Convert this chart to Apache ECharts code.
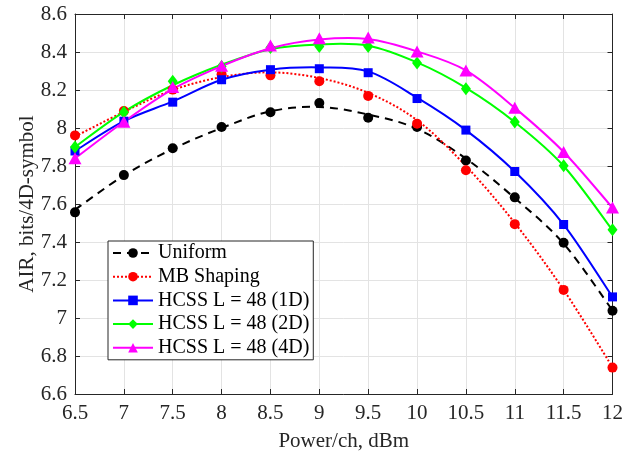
<!DOCTYPE html>
<html>
<head>
<meta charset="utf-8">
<script src="https://cdn.jsdelivr.net/npm/echarts@6/dist/echarts.min.js"></script>
<style>
html,body{margin:0;padding:0;background:#fff;}
#c{width:634px;height:457px;}
</style>
</head>
<body>
<div id="c"></div>
<script>
var xValues = [6.5, 7, 7.5, 8, 8.5, 9, 9.5, 10, 10.5, 11, 11.5, 12];
var uniformPts = [7.556, 7.752, 7.893, 8.005, 8.083, 8.132, 8.054, 8.005, 7.829, 7.635, 7.396, 7.038];
var uniformFit = [7.57, 7.75, 7.89, 8.00, 8.088, 8.111, 8.071, 7.996, 7.839, 7.631, 7.391, 7.04];
var mbPts = [7.961, 8.089, 8.202, 8.283, 8.277, 8.246, 8.169, 8.023, 7.778, 7.494, 7.148, 6.739];
var mbFit = [7.955, 8.085, 8.20, 8.268, 8.293, 8.263, 8.185, 8.041, 7.80, 7.50, 7.148, 6.741];
var hcss1DPts = [7.879, 8.036, 8.136, 8.254, 8.307, 8.312, 8.291, 8.155, 7.989, 7.771, 7.492, 7.111];
var hcss1DFit = [7.879, 8.036, 8.14, 8.254, 8.307, 8.319, 8.298, 8.16, 7.989, 7.771, 7.492, 7.111];
var hcss2DPts = [7.900, 8.083, 8.246, 8.324, 8.424, 8.429, 8.429, 8.342, 8.206, 8.031, 7.801, 7.464];
var hcss2DFit = [7.90, 8.085, 8.225, 8.333, 8.415, 8.44, 8.433, 8.345, 8.211, 8.031, 7.80, 7.462];
var hcss4DPts = [7.841, 8.033, 8.216, 8.328, 8.434, 8.473, 8.476, 8.403, 8.303, 8.106, 7.874, 7.581];
var hcss4DFit = [7.84, 8.033, 8.205, 8.326, 8.42, 8.466, 8.468, 8.403, 8.303, 8.106, 7.874, 7.58];
var names = ['Uniform', 'MB Shaping', 'HCSS L = 48 (1D)', 'HCSS L = 48 (2D)', 'HCSS L = 48 (4D)'];
var xTitle = 'Power/ch, dBm';
var yTitle = 'AIR, bits/4D-symbol';

function pairs(ys) { return xValues.map(function (x, i) { return [x, ys[i]]; }); }

var FONT = 'Liberation Serif';
var AX = '#262626';
var GRID = '#e3e3e3';

function fmt(v) { return String(+v.toFixed(1)); }

// Smooth fitted curve through the fit values, positioned with the chart's own coordinate system
function curveSeries(name, ys, color, dash, z) {
  return {
    name: name, type: 'custom', z: z, silent: true,
    data: [[xValues[0], ys[0]]],
    clip: true,
    renderItem: function (params, api) {
      var p = xValues.map(function (x, i) { return api.coord([x, ys[i]]); });
      var n = p.length;
      var d = 'M' + p[0][0] + ' ' + p[0][1];
      for (var i = 0; i < n - 1; i++) {
        var p0 = p[Math.max(i - 1, 0)], p1 = p[i], p2 = p[i + 1], p3 = p[Math.min(i + 2, n - 1)];
        var c1x = p1[0] + (p2[0] - p0[0]) / 6, c1y = p1[1] + (p2[1] - p0[1]) / 6;
        var c2x = p2[0] - (p3[0] - p1[0]) / 6, c2y = p2[1] - (p3[1] - p1[1]) / 6;
        d += ' C' + c1x + ' ' + c1y + ' ' + c2x + ' ' + c2y + ' ' + p2[0] + ' ' + p2[1];
      }
      return {
        type: 'path',
        shape: {pathData: d},
        style: {fill: null, stroke: color, lineWidth: 2, lineDash: dash}
      };
    }
  };
}

function markerSeries(name, ys, color, symbol, size, dashType) {
  return {
    name: name, type: 'line', data: pairs(ys),
    symbol: symbol, symbolSize: size, showSymbol: true,
    itemStyle: {color: color, borderWidth: 0},
    lineStyle: {color: color, width: 2, type: dashType, opacity: 0},
    z: 4
  };
}

var chart = echarts.init(document.getElementById('c'), null, {renderer: 'canvas'});
chart.setOption({
  animation: false,
  backgroundColor: '#fff',
  grid: {left: 75, right: 21.5, top: 14, bottom: 61, containLabel: false},
  xAxis: [{
    type: 'value', min: 6.5, max: 12, interval: 0.5,
    name: xTitle, nameLocation: 'middle', nameGap: 37, nameMoveOverlap: false,
    nameTextStyle: {fontFamily: FONT, fontSize: 21, color: AX},
    axisLine: {show: true, onZero: false, lineStyle: {color: AX, width: 1}},
    axisTick: {show: true, inside: true, length: 5, lineStyle: {color: AX}},
    axisLabel: {fontFamily: FONT, fontSize: 21, color: AX, margin: 9, formatter: fmt},
    splitLine: {show: true, lineStyle: {color: GRID, width: 1}}
  }, {
    type: 'value', min: 6.5, max: 12, interval: 0.5, position: 'top',
    axisLine: {show: true, onZero: false, lineStyle: {color: AX, width: 1}},
    axisTick: {show: true, inside: true, length: 5, lineStyle: {color: AX}},
    axisLabel: {show: false}, splitLine: {show: false}
  }],
  yAxis: [{
    type: 'value', min: 6.6, max: 8.6, interval: 0.2,
    name: yTitle, nameLocation: 'middle', nameGap: 37, nameRotate: 90, nameMoveOverlap: false,
    nameTextStyle: {fontFamily: FONT, fontSize: 21, color: AX},
    axisLine: {show: true, onZero: false, lineStyle: {color: AX, width: 1}},
    axisTick: {show: true, inside: true, length: 5, lineStyle: {color: AX}},
    axisLabel: {fontFamily: FONT, fontSize: 21, color: AX, margin: 8, formatter: fmt},
    splitLine: {show: true, lineStyle: {color: GRID, width: 1}}
  }, {
    type: 'value', min: 6.6, max: 8.6, interval: 0.2, position: 'right',
    axisLine: {show: true, onZero: false, lineStyle: {color: AX, width: 1}},
    axisTick: {show: true, inside: true, length: 5, lineStyle: {color: AX}},
    axisLabel: {show: false}, splitLine: {show: false}
  }],
  legend: {
    data: names,
    orient: 'vertical',
    left: 108, top: 241,
    padding: [2, 4, 2, 4],
    itemGap: 3.7,
    itemWidth: 40, itemHeight: 12,
    itemStyle: {borderWidth: 0},
    lineStyle: {opacity: 1, width: 2},
    backgroundColor: '#fff',
    borderColor: AX, borderWidth: 1,
    textStyle: {fontFamily: FONT, fontSize: 20, color: '#000', lineHeight: 20}
  },
  series: [
    markerSeries(names[0], uniformPts, '#000000', 'circle', 10, [8, 6]),
    markerSeries(names[1], mbPts, '#ff0000', 'circle', 10, [2, 2]),
    markerSeries(names[2], hcss1DPts, '#0000ff', 'rect', 9, 'solid'),
    markerSeries(names[3], hcss2DPts, '#00ff00', 'diamond', [10, 13], 'solid'),
    markerSeries(names[4], hcss4DPts, '#ff00ff', 'triangle', [13, 12], 'solid'),
    curveSeries(names[0], uniformFit, '#000000', [8, 6], 2),
    curveSeries(names[1], mbFit, '#ff0000', [2, 2], 2),
    curveSeries(names[2], hcss1DFit, '#0000ff', null, 2),
    curveSeries(names[3], hcss2DFit, '#00ff00', null, 2),
    curveSeries(names[4], hcss4DFit, '#ff00ff', null, 2)
  ]
});
</script>
</body>
</html>
